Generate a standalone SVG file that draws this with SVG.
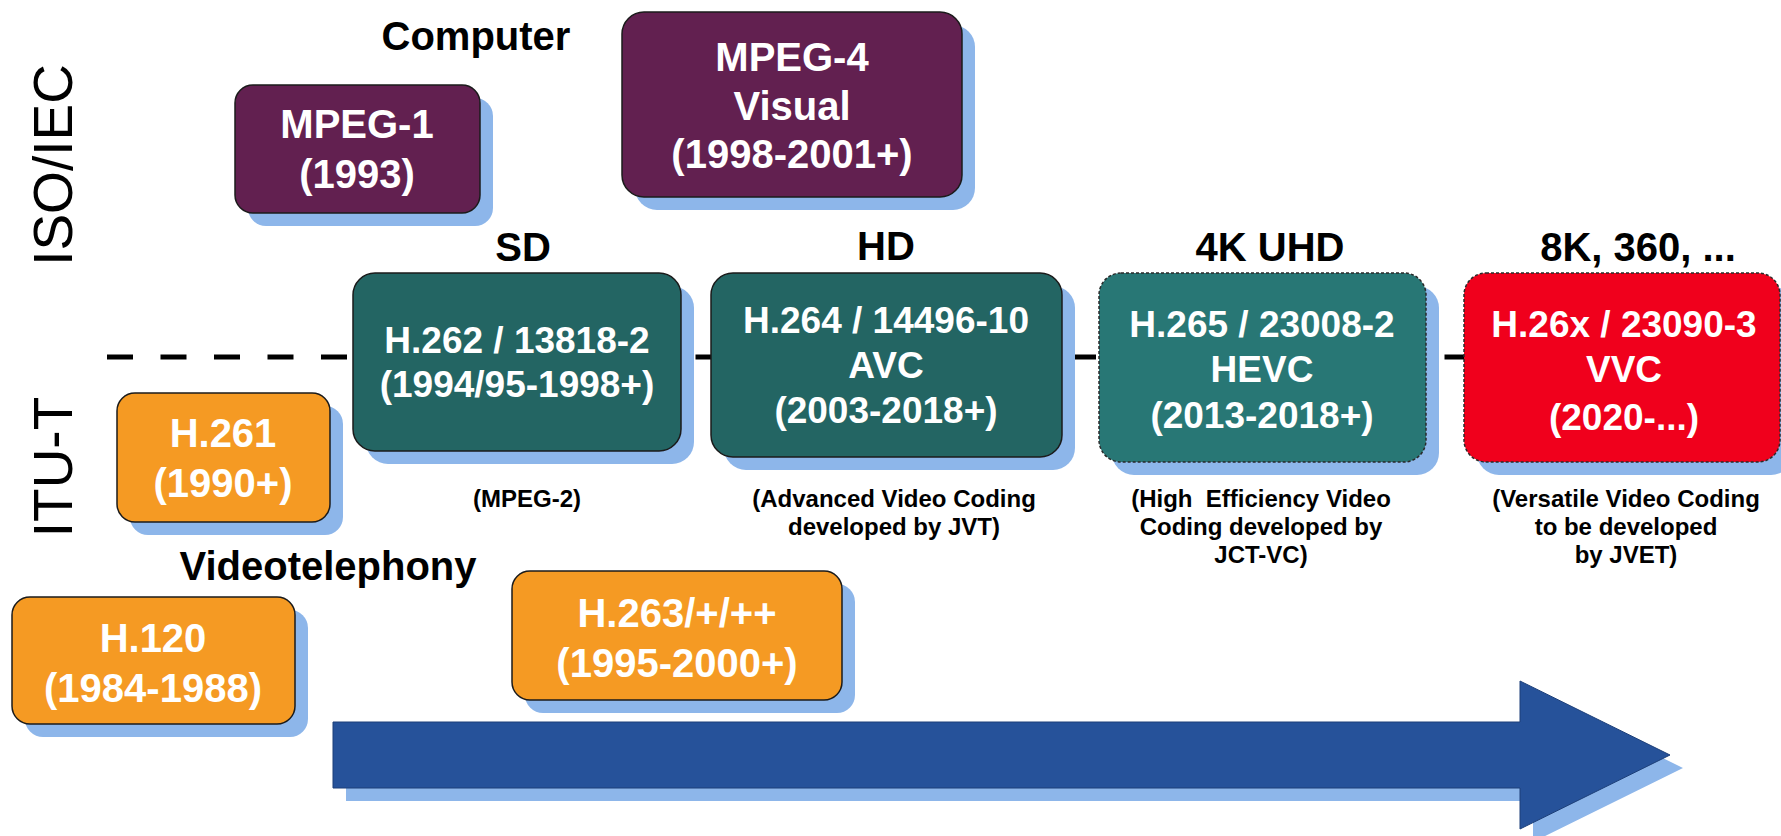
<svg xmlns="http://www.w3.org/2000/svg" width="1781" height="836" viewBox="0 0 1781 836">
<style>
text{font-family:"Liberation Sans",Arial,sans-serif;}
.lbl{font-size:40px;font-weight:bold;fill:#000;text-anchor:middle;}
.vert{font-size:55px;fill:#000;text-anchor:middle;}
.bt{font-size:37px;font-weight:bold;fill:#fff;text-anchor:middle;}
.bt2{font-size:40px;font-weight:bold;fill:#fff;text-anchor:middle;}
.note{font-size:24px;font-weight:bold;fill:#000;text-anchor:middle;}
.sh{fill:#8db6ea;}
.box{stroke:#1b1b1b;stroke-width:1.5;}
.dot{stroke:#2a2a2a;stroke-width:1.5;stroke-dasharray:3 2;}
.purple{fill:#622050;}
.teal{fill:#236563;}
.teal2{fill:#287775;}
.red{fill:#f0001c;}
.orange{fill:#f59a23;}
</style>

<g id="axis-labels">
<text class="vert" transform="translate(72,165) rotate(-90)">ISO/IEC</text>
<text class="vert" transform="translate(72,467) rotate(-90)">ITU-T</text>
</g>

<g id="connectors">
<line x1="107" y1="357" x2="1470" y2="357" stroke="#000" stroke-width="5" stroke-dasharray="26 27.5"/>
</g>

<g id="timeline-arrow">
<polygon class="sh" points="346,735 1533,735 1533,694 1683,768 1533,842 1533,801 346,801"/>
<polygon points="333,722 1520,722 1520,681 1670,755 1520,829 1520,788 333,788" fill="#26529a" stroke="#1d3f78" stroke-width="1"/>
</g>

<g id="category-labels">
<text class="lbl" x="476" y="50">Computer</text>
<text class="lbl" x="523" y="261">SD</text>
<text class="lbl" x="886" y="260">HD</text>
<text class="lbl" x="1270" y="261">4K UHD</text>
<text class="lbl" x="1638" y="261">8K, 360, ...</text>
<text class="lbl" x="328" y="580">Videotelephony</text>
</g>

<g id="mpeg1">
<rect class="sh" x="248" y="98" width="245" height="128" rx="18"/>
<rect class="box purple" x="235" y="85" width="245" height="128" rx="18"/>
<text class="bt2" x="357" y="138">MPEG-1</text>
<text class="bt2" x="357" y="188">(1993)</text>
</g>

<g id="mpeg4">
<rect class="sh" x="635" y="25" width="340" height="185" rx="22"/>
<rect class="box purple" x="622" y="12" width="340" height="185" rx="22"/>
<text class="bt2" x="792" y="71">MPEG-4</text>
<text class="bt2" x="792" y="120">Visual</text>
<text class="bt2" x="792" y="168">(1998-2001+)</text>
</g>

<g id="h262">
<rect class="sh" x="366" y="286" width="328" height="178" rx="22"/>
<rect class="box teal" x="353" y="273" width="328" height="178" rx="22"/>
<text class="bt" x="517" y="353">H.262 / 13818-2</text>
<text class="bt" x="517" y="397">(1994/95-1998+)</text>
<text class="note" x="527" y="507">(MPEG-2)</text>
</g>

<g id="h264">
<rect class="sh" x="724" y="286" width="351" height="184" rx="22"/>
<rect class="box teal" x="711" y="273" width="351" height="184" rx="22"/>
<text class="bt" x="886" y="333">H.264 / 14496-10</text>
<text class="bt" x="886" y="378">AVC</text>
<text class="bt" x="886" y="423">(2003-2018+)</text>
<text class="note" x="894" y="507">(Advanced Video Coding</text>
<text class="note" x="894" y="535">developed by JVT)</text>
</g>

<g id="h265">
<rect class="sh" x="1112" y="286" width="327" height="189" rx="22"/>
<rect class="dot teal2" x="1099" y="273" width="327" height="189" rx="22"/>
<text class="bt" x="1262" y="337">H.265 / 23008-2</text>
<text class="bt" x="1262" y="382">HEVC</text>
<text class="bt" x="1262" y="428">(2013-2018+)</text>
<text class="note" x="1261" y="507" xml:space="preserve">(High  Efficiency Video</text>
<text class="note" x="1261" y="535">Coding developed by</text>
<text class="note" x="1261" y="563">JCT-VC)</text>
</g>

<g id="vvc">
<rect class="sh" x="1477" y="286" width="316" height="189" rx="22"/>
<rect class="dot red" x="1464" y="273" width="316" height="189" rx="22"/>
<text class="bt" x="1624" y="337">H.26x / 23090-3</text>
<text class="bt" x="1624" y="382">VVC</text>
<text class="bt" x="1624" y="430">(2020-...)</text>
<text class="note" x="1626" y="507">(Versatile Video Coding</text>
<text class="note" x="1626" y="535">to be developed</text>
<text class="note" x="1626" y="563">by JVET)</text>
</g>

<g id="h261">
<rect class="sh" x="130" y="406" width="213" height="129" rx="18"/>
<rect class="box orange" x="117" y="393" width="213" height="129" rx="18"/>
<text class="bt2" x="223" y="447">H.261</text>
<text class="bt2" x="223" y="497">(1990+)</text>
</g>

<g id="h120">
<rect class="sh" x="25" y="610" width="283" height="127" rx="18"/>
<rect class="box orange" x="12" y="597" width="283" height="127" rx="18"/>
<text class="bt2" x="153" y="652">H.120</text>
<text class="bt2" x="153" y="702">(1984-1988)</text>
</g>

<g id="h263">
<rect class="sh" x="525" y="584" width="330" height="129" rx="18"/>
<rect class="box orange" x="512" y="571" width="330" height="129" rx="18"/>
<text class="bt2" x="677" y="627">H.263/+/++</text>
<text class="bt2" x="677" y="677">(1995-2000+)</text>
</g>
</svg>
